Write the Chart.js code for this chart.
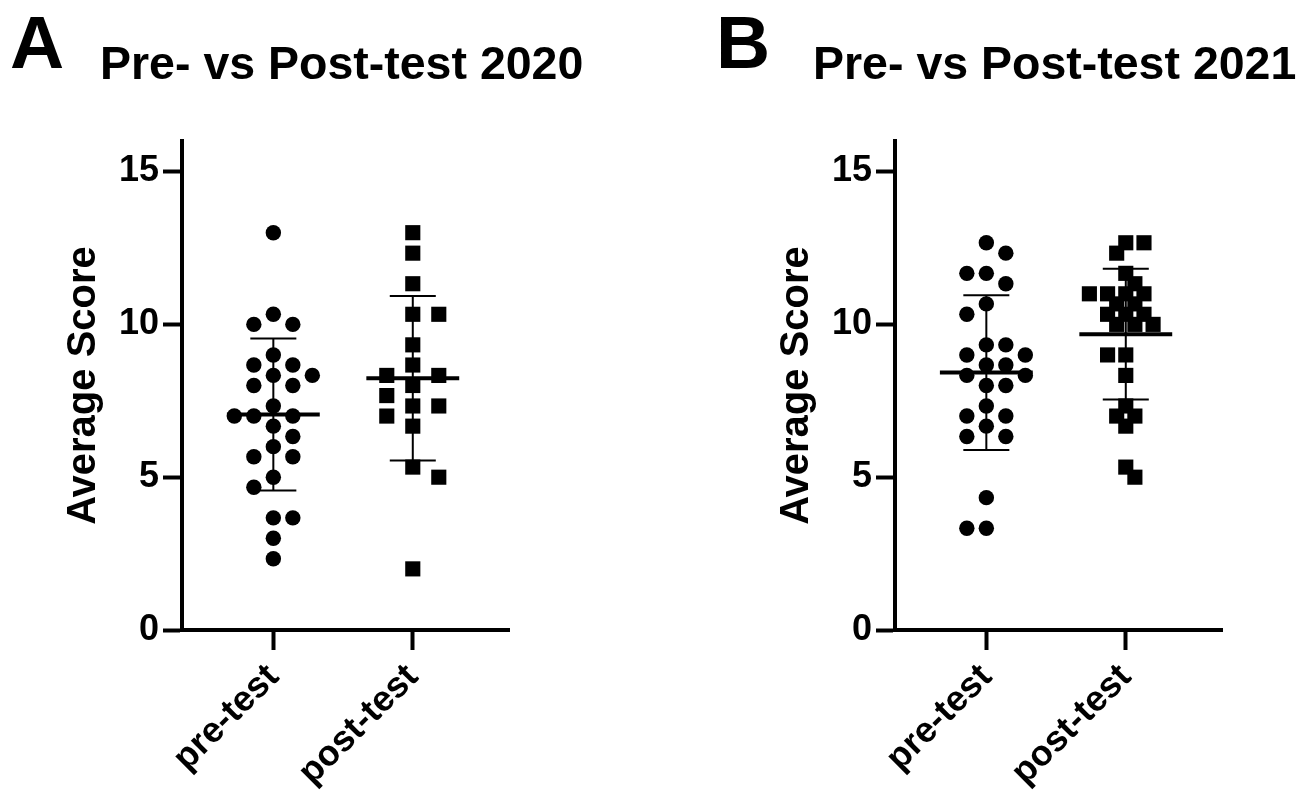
<!DOCTYPE html>
<html>
<head>
<meta charset="utf-8">
<script src="https://cdn.jsdelivr.net/npm/chart.js@4"></script>
<style>
  body { margin: 0; background: #fff; width: 1310px; height: 798px; position: relative; overflow: hidden; }
  .panel { position: absolute; top: 0; }
  .letter, .title { position: absolute; font-family: "Liberation Sans", Arial, sans-serif; font-weight: bold; color: #000; line-height: 1; white-space: nowrap; }
  .letter { font-size: 75px; top: 5px; }
  .title { font-size: 46.5px; top: 40px; }
</style>
</head>
<body>
<canvas id="chartA" class="panel" width="560" height="798" style="left:0"></canvas>
<canvas id="chartB" class="panel" width="560" height="798" style="left:713px"></canvas>
<div class="letter" style="left:10px">A</div>
<div class="title" style="left:100px">Pre- vs Post-test 2020</div>
<div class="letter" style="left:716px">B</div>
<div class="title" style="left:813px">Pre- vs Post-test 2021</div>
<script>
// data (average score per student)
var groups = ["pre-test", "post-test"];
var yTicks = [0, 5, 10, 15];

var pre2020 = [13, 10.33, 10, 10, 9, 8.67, 8.67, 8.33, 8.33, 8, 8, 7.33, 7, 7, 7,
    6.67, 6.33, 6, 5.67, 5.67, 5, 4.67, 3.67, 3.67, 3, 2.33];
var post2020 = [13, 12.33, 11.33, 10.33, 10.33, 9.33, 8.67, 8.33, 8.33, 8, 7.67,
    7.33, 7.33, 7, 6.67, 5.33, 5, 2];

var pre2021 = [12.67, 12.33, 11.67, 11.67, 11.33, 10.67, 10.33, 9.33, 9.33, 9, 9,
    8.67, 8.67, 8.33, 8.33, 8, 8, 7.33, 7, 7, 6.67, 6.33, 6.33, 4.33, 3.33, 3.33];
var post2021 = [12.67, 12.67, 12.33, 11.67, 11.33, 11, 11, 11, 11, 10.67, 10.67,
    10.33, 10.33, 10.33, 10, 10, 10, 9, 9, 8.33, 7.33, 7, 7, 6.67, 5.33, 5];

Chart.defaults.font.family = '"Liberation Sans", Arial, sans-serif';
Chart.defaults.color = "#000";

// scatter-dot-plot spreading (pixels per unit of each axis)
var PX_Y = 489 / 16;
var PX_X = 327 / 2.345;

function spread(vals, step, minD) {
    var order = vals.map(function (v, i) { return i; })
        .sort(function (a, b) { return vals[b] - vals[a]; });
    var placed = [];
    var off = [];
    var side = 1;
    order.forEach(function (i) {
        var y = vals[i] * PX_Y;
        for (var k = 0; k < 40; k++) {
            var cands = k === 0 ? [0] : [side * k, -side * k];
            var found = null;
            for (var c = 0; c < cands.length; c++) {
                var x = cands[c] * step;
                var ok = placed.every(function (p) {
                    return Math.hypot(p.x - x, p.y - y) >= minD;
                });
                if (ok) { found = x; break; }
            }
            if (found !== null) {
                off[i] = found;
                placed.push({x: found, y: y});
                if (found !== 0) side = -Math.sign(found);
                break;
            }
        }
    });
    return off;
}

// tighten the spacing until the group fits in its column
function swarm(vals) {
    var maxHalf = 41, off;
    for (var f = 1; f > 0.4; f -= 0.05) {
        off = spread(vals, 13 * f, 19 * f);
        if (Math.max.apply(null, off.map(Math.abs)) <= maxHalf) break;
    }
    return off.map(function (o) { return o / PX_X; });
}

function points(vals, pos) {
    var off = swarm(vals);
    return vals.map(function (v, i) { return {x: pos + off[i], y: v}; });
}

function stats(vals) {
    var n = vals.length;
    var mean = vals.reduce(function (a, b) { return a + b; }, 0) / n;
    var ss = vals.reduce(function (a, b) { return a + (b - mean) * (b - mean); }, 0);
    return {mean: mean, sd: Math.sqrt(ss / (n - 1))};
}

// mean line + SD whiskers
var meanSdPlugin = {
    id: "meanSd",
    afterDatasetsDraw: function (chart) {
        var ctx = chart.ctx;
        var xs = chart.scales.x, ys = chart.scales.y;
        ctx.save();
        ctx.strokeStyle = "#000";
        chart.data.datasets.forEach(function (ds) {
            var s = stats(ds.values);
            var cx = xs.getPixelForValue(ds.pos);
            var m = ys.getPixelForValue(s.mean);
            var hi = ys.getPixelForValue(s.mean + s.sd);
            var lo = ys.getPixelForValue(s.mean - s.sd);
            var half = xs.getPixelForValue(ds.pos + 0.333) - cx;
            var cap = xs.getPixelForValue(ds.pos + 0.165) - cx;
            ctx.lineWidth = 2;
            ctx.beginPath();
            ctx.moveTo(cx, hi); ctx.lineTo(cx, lo);
            ctx.moveTo(cx - cap, hi); ctx.lineTo(cx + cap, hi);
            ctx.moveTo(cx - cap, lo); ctx.lineTo(cx + cap, lo);
            ctx.stroke();
            ctx.lineWidth = 4;
            ctx.beginPath();
            ctx.moveTo(cx - half, m); ctx.lineTo(cx + half, m);
            ctx.stroke();
        });
        ctx.restore();
    }
};

function makeChart(id, preVals, postVals) {
    return new Chart(id, {
        type: "scatter",
        data: {
            datasets: [{
                values: preVals,
                pos: 1,
                data: points(preVals, 1),
                pointStyle: "circle",
                pointRadius: 7.7,
                borderWidth: 0,
                backgroundColor: "#000"
            }, {
                values: postVals,
                pos: 2,
                data: points(postVals, 2),
                pointStyle: "rect",
                pointRadius: 10.7,
                borderWidth: 0,
                backgroundColor: "#000"
            }]
        },
        options: {
            responsive: false,
            animation: false,
            layout: {padding: {left: 56, right: 51, top: 141, bottom: 8}},
            plugins: {legend: {display: false}, tooltip: {enabled: false}},
            scales: {
                x: {
                    type: "linear",
                    min: 0.345,
                    max: 2.69,
                    afterBuildTicks: function (s) {
                        s.ticks = groups.map(function (g, i) { return {value: i + 1}; });
                    },
                    afterFit: function (s) {
                        s.height = 160;
                        s.paddingLeft = 0;
                        s.paddingRight = 0;
                    },
                    ticks: {
                        autoSkip: false,
                        minRotation: 45,
                        maxRotation: 45,
                        padding: 6,
                        font: {size: 36, weight: "bold"},
                        callback: function (v) { return groups[Math.round(v) - 1]; }
                    },
                    grid: {drawOnChartArea: false, tickLength: 20, tickWidth: 4, tickColor: "#000"},
                    border: {display: true, color: "#000", width: 4}
                },
                y: {
                    min: 0,
                    max: 16,
                    afterBuildTicks: function (s) {
                        s.ticks = yTicks.map(function (v) { return {value: v}; });
                    },
                    afterFit: function (s) {
                        s.width = 126;
                        s.paddingTop = 0;
                        s.paddingBottom = 0;
                    },
                    ticks: {
                        padding: 4,
                        font: {size: 36, weight: "bold"}
                    },
                    title: {
                        display: true,
                        text: "Average Score",
                        font: {size: 40, weight: "bold"},
                        padding: {top: 4, bottom: 4}
                    },
                    grid: {drawOnChartArea: false, tickLength: 19, tickWidth: 4, tickColor: "#000"},
                    border: {display: true, color: "#000", width: 4}
                }
            }
        },
        plugins: [meanSdPlugin]
    });
}

makeChart("chartA", pre2020, post2020);
makeChart("chartB", pre2021, post2021);
</script>
</body>
</html>
